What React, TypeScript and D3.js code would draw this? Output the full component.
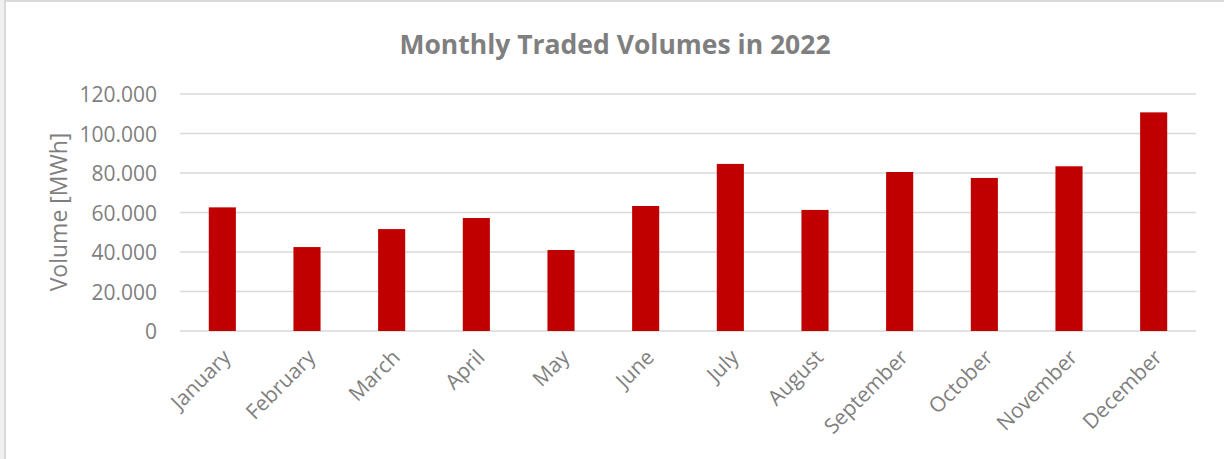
import { useRef, useEffect } from 'react';
import * as d3 from 'd3';

// ---------------------------------------------------------------------------
// Data
// ---------------------------------------------------------------------------
const MONTHS = [
  'January', 'February', 'March', 'April', 'May', 'June',
  'July', 'August', 'September', 'October', 'November', 'December',
];
const VOLUMES = [62600, 42500, 51600, 57200, 41000, 63300, 84600, 61300, 80500, 77500, 83400, 110700];
const Y_TICKS = [0, 20000, 40000, 60000, 80000, 100000, 120000];

const TITLE = 'Monthly Traded Volumes in 2022';
const Y_LABEL = 'Volume [MWh]';

// ---------------------------------------------------------------------------
// Styles
// ---------------------------------------------------------------------------
const BAR = '#c00000';
const GRID = '#d9d9d9';
const TEXT = '#7f7f7f';
const FONT = '"Open Sans", "Noto Sans", sans-serif';

const W = 1224;
const H = 459;

export default function App() {
  const svgRef = useRef<SVGSVGElement>(null);

  useEffect(() => {
    const svg = svgRef.current;
    if (!svg) return;
    const sel = d3.select(svg);
    sel.selectAll('*').remove();

    const margin = { top: 94, right: 28, bottom: 128, left: 180 };
    const innerW = W - margin.left - margin.right;
    const innerH = H - margin.top - margin.bottom;

    // frame strips (top / left)
    sel.append('rect').attr('x', 0).attr('y', 0).attr('width', W).attr('height', H).attr('fill', '#ffffff');
    sel.append('rect').attr('x', 0).attr('y', 0).attr('width', 4).attr('height', H).attr('fill', '#f0f0f0');
    sel.append('rect').attr('x', 4).attr('y', 0).attr('width', 2).attr('height', H).attr('fill', GRID);
    sel.append('rect').attr('x', 4).attr('y', 0).attr('width', W).attr('height', 2).attr('fill', GRID);

    const g = sel.append('g').attr('transform', `translate(${margin.left},${margin.top})`);

    const x = d3.scaleBand<string>().domain(MONTHS).range([0, innerW]).paddingInner(0.68).paddingOuter(0.34);
    const y = d3.scaleLinear().domain([0, 120000]).range([innerH, 0]);

    // gridlines
    g.selectAll('line.grid')
      .data(Y_TICKS)
      .enter()
      .append('line')
      .attr('x1', 0)
      .attr('x2', innerW)
      .attr('y1', (d) => y(d))
      .attr('y2', (d) => y(d))
      .attr('stroke', GRID)
      .attr('stroke-width', 1.5);

    // bars
    g.selectAll('rect.bar')
      .data(VOLUMES)
      .enter()
      .append('rect')
      .attr('x', (_, i) => x(MONTHS[i]) ?? 0)
      .attr('y', (d) => y(d))
      .attr('width', x.bandwidth())
      .attr('height', (d) => innerH - y(d))
      .attr('fill', BAR);

    // y tick labels
    const fmt = (v: number) => (v === 0 ? '0' : d3.format(',')(v).replace(/,/g, '.'));
    g.selectAll('text.ytick')
      .data(Y_TICKS)
      .enter()
      .append('text')
      .attr('x', -23)
      .attr('y', (d) => y(d))
      .attr('text-anchor', 'end')
      .attr('dominant-baseline', 'central')
      .attr('fill', TEXT)
      .attr('font-family', FONT)
      .attr('font-size', '21px')
      .text(fmt);

    // x tick labels (rotated)
    g.selectAll('text.xtick')
      .data(MONTHS)
      .enter()
      .append('text')
      .attr('transform', (d) => `translate(${(x(d) ?? 0) + x.bandwidth() / 2 + 4},${innerH + 22}) rotate(-45)`)
      .attr('text-anchor', 'end')
      .attr('dominant-baseline', 'central')
      .attr('fill', TEXT)
      .attr('font-family', FONT)
      .attr('font-size', '21px')
      .text((d) => d);

    // y axis title
    sel.append('text')
      .attr('transform', `translate(58,212) rotate(-90)`)
      .attr('text-anchor', 'middle')
      .attr('dominant-baseline', 'central')
      .attr('fill', TEXT)
      .attr('font-family', FONT)
      .attr('font-size', '23px')
      .text(Y_LABEL);

    // chart title
    sel.append('text')
      .attr('x', 615)
      .attr('y', 54)
      .attr('text-anchor', 'middle')
      .attr('fill', TEXT)
      .attr('font-family', FONT)
      .attr('font-weight', 'bold')
      .attr('font-size', '26.5px')
      .text(TITLE);
  }, []);

  return (
    <div style={{ position: 'absolute', left: 0, top: 0 }}>
      <svg ref={svgRef} width={W} height={H} style={{ display: 'block' }} />
    </div>
  );
}
